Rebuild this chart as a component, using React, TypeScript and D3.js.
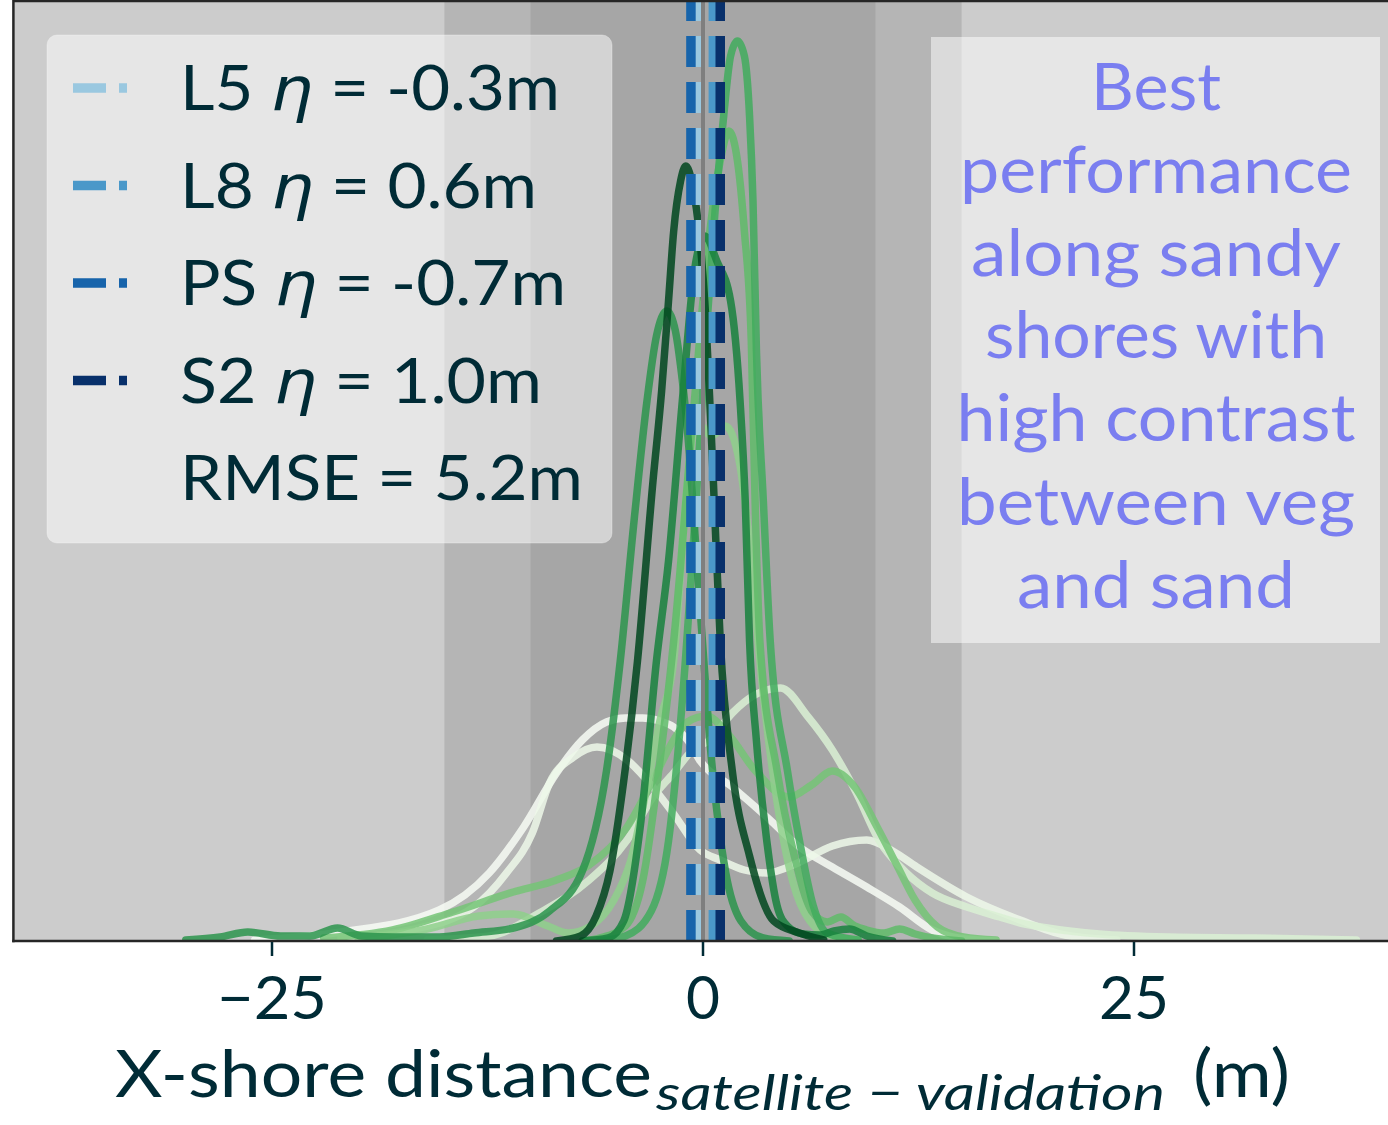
import React, { useEffect, useRef } from "react";
import * as d3 from "d3";

const W = 1388;
const H = 1125;

// axes ranges: x in metres, y is KDE density (x1e-3)
const xDomain: [number, number] = [-40, 40];
const yDomain: [number, number] = [0, 188];
const xTicks = [-25, 0, 25];
const xTickLabels = ["\u221225", "0", "25"];

// shaded error bands (m)
const outerBand = [-15, 15];
const innerBand = [-10, 10];

// mean offsets per sensor
const sensors = ["L5", "L8", "PS", "S2"];
const sensorEta = [-0.3, 0.6, -0.7, 1.0];
const rmse = 5.2;

const noteLines = ["Best", "performance", "along sandy", "shores with", "high contrast", "between veg", "and sand"];

// KDE curves per site, [distance (m), density]
const siteWa: [number, number][] = [
  [-26, 0.2], [-21, 1.8], [-15.3, 6.2], [-12.4, 13.6], [-10.4, 22.8], [-8.5, 33.6], [-7.0, 40.2], [-5.6, 43.8],
  [-4.5, 44.6], [-3.5, 44.6], [-2.5, 44], [-1.7, 42.8], [-0.9, 40.2], [-0.2, 36.2], [1.7, 30.8], [3.7, 24.8],
  [5.6, 18.8], [7.5, 14.8], [9.5, 10.8], [11.4, 6.8], [13.3, 2.2], [14.8, 0.6], [17, 0],
];
const siteWb: [number, number][] = [
  [-21, 0.6], [-17, 2.2], [-13.3, 6.8], [-11.4, 13.6], [-9.9, 21.6], [-8.9, 31.6], [-7.5, 36.8], [-6.15, 38.8],
  [-4.4, 36.2], [-3.25, 32.2], [-1.74, 25.6], [-0.17, 18.2], [1.0, 16.2], [2.4, 14.2], [3.7, 13.6], [5.5, 15.6],
  [7.5, 19], [9.5, 20.2], [11, 18], [12.4, 14.8], [15.3, 8.8], [18.4, 4.2], [21, 1.2], [24, 0.2],
];
const siteWc: [number, number][] = [
  [-16, 0.2], [-12.4, 1], [-9.5, 5.6], [-6.6, 12.2], [-4.4, 20.2], [-2.9, 28.8], [-1.7, 33.6], [-0.6, 38.2],
  [0.4, 40.2], [1.7, 45.6], [3.0, 49.2], [4.5, 50.6], [6.1, 44.8], [7.5, 38.2], [8.9, 29.6], [10.2, 20.2],
  [11.8, 13.6], [13.3, 9.6], [15.3, 6.8], [17.2, 4.8], [18.4, 3.6], [20, 2.6], [23, 1.4], [27, 0.8], [32, 0.6], [37.9, 0.2],
];
const siteWd: [number, number][] = [
  [-22, 0.6], [-18, 2.2], [-14.5, 5.8], [-11, 9.8], [-8.5, 12.2], [-6.6, 15.2], [-4.4, 22.8], [-2.9, 32.2],
  [-1.7, 40.2], [-0.9, 43.8], [0.2, 45], [1.5, 41.2], [3.0, 34.2], [5.0, 28.8], [6.3, 31.2], [7.5, 34],
  [8.8, 30.8], [10.1, 22.8], [11.3, 14.8], [12.3, 8.2], [13.6, 2.8], [15.1, 0.8], [17, 0.2],
];
const siteC6: [number, number][] = [
  [-20, 0.4], [-16, 2.4], [-13, 5], [-11, 5.4], [-9, 3], [-7.8, 1.6], [-6.5, 3], [-5.2, 8], [-4.2, 16],
  [-3.3, 30], [-2.5, 44], [-1.7, 56], [-1.0, 88], [-0.4, 104], [0.5, 101], [1.3, 103], [2.1, 96], [2.8, 76],
  [3.3, 56], [4.2, 30], [5.2, 12], [6.2, 4], [7.5, 1], [9, 0.2],
];
const siteC2: [number, number][] = [
  [-7, 0], [-6, 0.6], [-4.5, 3], [-3.5, 12], [-2.5, 36], [-1.7, 60], [-0.6, 104], [0.4, 142], [1.0, 156],
  [1.5, 162], [2.0, 156], [2.4, 142], [2.8, 120], [3.05, 84], [3.3, 60], [4.3, 34], [5.3, 17], [6.3, 6],
  [7.2, 3.8], [8.0, 4.8], [8.8, 3], [9.5, 2.2], [10.5, 1.6], [11.4, 2.4], [12.3, 1.4], [13.3, 0.6], [15, 0],
];
const siteC1: [number, number][] = [
  [-6, 0], [-4.5, 1], [-3, 6], [-2, 20], [-1.2, 48], [-0.4, 88], [0.2, 122], [0.7, 146], [1.2, 165], [1.6, 177],
  [2, 180], [2.4, 177], [2.7, 165], [2.9, 148], [3.1, 118], [3.5, 88], [3.9, 60], [4.9, 34], [5.6, 20],
  [6.4, 7], [7.2, 1.6], [9, 0.2],
];
const siteC5: [number, number][] = [
  [-30, 0.2], [-28, 0.8], [-26.4, 1.8], [-24.5, 1], [-22.8, 1], [-21.2, 2.6], [-19.8, 1], [-18, 0.8], [-15.3, 0.8],
  [-13.3, 1.6], [-11, 2.6], [-8.9, 6], [-7, 14], [-5.6, 34], [-4.8, 56], [-4, 84], [-3.25, 108], [-2.7, 121],
  [-2.1, 126], [-1.6, 122], [-1.3, 115], [-0.9, 102], [-0.2, 68], [0.5, 36], [1.3, 14], [2.2, 4], [3.5, 0.6], [5, 0],
];
const siteC4: [number, number][] = [
  [-7, 0], [-5.5, 0.6], [-4.6, 4], [-3.6, 24], [-2.7, 56], [-2.0, 76], [-1.2, 108], [-0.5, 134], [0.1, 141],
  [0.8, 136], [1.6, 128], [2.15, 108], [2.45, 88], [2.7, 60], [3.1, 40], [3.7, 20], [4.3, 7], [4.9, 3],
  [5.8, 1.4], [6.8, 1.2], [7.6, 2], [8.5, 2.4], [9.5, 1], [11, 0],
];
const siteC3: [number, number][] = [
  [-8.5, 0], [-7.1, 1], [-6.2, 5], [-5.4, 14], [-4.6, 32], [-3.8, 56], [-2.9, 92], [-2.4, 110], [-2.0, 128],
  [-1.7, 142], [-1.3, 152], [-1, 155], [-0.6, 151], [-0.2, 141], [0.1, 128], [0.6, 92], [1.0, 60], [1.7, 34],
  [2.7, 17], [4.1, 4], [5.6, 1.6], [7, 0.2],
];

const curves = [siteWa, siteWb, siteWc, siteWd, siteC6, siteC2, siteC1, siteC5, siteC4, siteC3];
const curveColors = ["#f7fcf5", "#edf8e9", "#d9f0d3", "#74c476", "#8ed08b", "#5fbb68", "#41ab5d", "#2c944c", "#17813d", "#00471e"];
const sensorColors = ["#9ac8e0", "#4a98c9", "#1764ab", "#08306b"];

const textColor = "#002b36";
const noteColor = "#7a7ef0";
const font = "Lato, 'DejaVu Sans', sans-serif";
const fontWeight = 400;

const App: React.FC = () => {
  const svgRef = useRef<SVGSVGElement>(null);

  useEffect(() => {
    if (!svgRef.current) return;
    const plot = { left: 13.4, right: 1392.6, top: 1, bottom: 941 };

    const x = d3.scaleLinear().domain(xDomain).range([plot.left, plot.right]);
    const y = d3.scaleLinear().domain(yDomain).range([plot.bottom, plot.top]);

    const svg = d3.select(svgRef.current).html("");

    svg.append("rect").attr("width", W).attr("height", H).attr("fill", "#ffffff");

    svg.append("clipPath").attr("id", "plotClip")
      .append("rect")
      .attr("x", plot.left).attr("y", plot.top)
      .attr("width", plot.right - plot.left).attr("height", plot.bottom - plot.top);

    const g = svg.append("g").attr("clip-path", "url(#plotClip)");

    // background + bands
    g.append("rect")
      .attr("x", plot.left).attr("y", plot.top)
      .attr("width", plot.right - plot.left).attr("height", plot.bottom - plot.top)
      .attr("fill", "#cccccc");
    g.append("rect")
      .attr("x", x(outerBand[0])).attr("y", plot.top)
      .attr("width", x(outerBand[1]) - x(outerBand[0])).attr("height", plot.bottom - plot.top)
      .attr("fill", "#b5b5b5");
    g.append("rect")
      .attr("x", x(innerBand[0])).attr("y", plot.top)
      .attr("width", x(innerBand[1]) - x(innerBand[0])).attr("height", plot.bottom - plot.top)
      .attr("fill", "#a6a6a6");

    // KDE lines
    const line = d3
      .line<[number, number]>()
      .x((d) => x(d[0]))
      .y((d) => y(d[1]))
      .curve(d3.curveMonotoneX);

    curves.forEach((c, i) => {
      g.append("path")
        .datum(c)
        .attr("fill", "none")
        .attr("stroke", curveColors[i])
        .attr("stroke-opacity", 0.85)
        .attr("stroke-width", 7.5)
        .attr("stroke-linejoin", "round")
        .attr("stroke-linecap", "round")
        .attr("d", line);
    });

    // mean offset lines
    sensorEta.forEach((v, i) => {
      g.append("line")
        .attr("x1", x(v)).attr("x2", x(v))
        .attr("y1", plot.bottom).attr("y2", plot.top)
        .attr("stroke", sensorColors[i])
        .attr("stroke-width", 9.5)
        .attr("stroke-dasharray", "31,15");
    });

    g.append("line")
      .attr("x1", x(0)).attr("x2", x(0))
      .attr("y1", plot.top).attr("y2", plot.bottom)
      .attr("stroke", "#7f7f7f")
      .attr("stroke-width", 4);

    // spines
    svg.append("line")
      .attr("x1", plot.left).attr("x2", plot.left).attr("y1", 0).attr("y2", plot.bottom + 1.2)
      .attr("stroke", "#262626").attr("stroke-width", 2.5);
    svg.append("line")
      .attr("x1", plot.left).attr("x2", W).attr("y1", plot.top).attr("y2", plot.top)
      .attr("stroke", "#262626").attr("stroke-width", 2.5);
    svg.append("line")
      .attr("x1", plot.left - 1.2).attr("x2", W).attr("y1", plot.bottom).attr("y2", plot.bottom)
      .attr("stroke", "#262626").attr("stroke-width", 2.5);

    // x ticks
    const tickWidths = [110, 34, 70];
    xTicks.forEach((t, i) => {
      svg.append("line")
        .attr("x1", x(t)).attr("x2", x(t))
        .attr("y1", plot.bottom + 1).attr("y2", plot.bottom + 15)
        .attr("stroke", textColor).attr("stroke-width", 2.5);
      svg.append("text")
        .attr("x", x(t) - tickWidths[i] / 2).attr("y", 1019)
        .attr("font-family", font).attr("font-size", 60).attr("font-weight", fontWeight)
        .attr("fill", textColor)
        .attr("textLength", tickWidths[i]).attr("lengthAdjust", "spacingAndGlyphs")
        .text(xTickLabels[i]);
    });

    // x label
    const lab = svg.append("g").attr("fill", textColor).attr("font-family", font).attr("font-weight", fontWeight);
    lab.append("text")
      .attr("x", 115).attr("y", 1097).attr("font-size", 66)
      .attr("textLength", 537).attr("lengthAdjust", "spacingAndGlyphs")
      .text("X-shore distance");
    lab.append("text")
      .attr("x", 656).attr("y", 1110).attr("font-size", 48).attr("font-style", "italic")
      .attr("textLength", 509).attr("lengthAdjust", "spacingAndGlyphs")
      .text("satellite \u2212 validation");
    lab.append("text")
      .attr("x", 1193).attr("y", 1097).attr("font-size", 66)
      .attr("textLength", 97).attr("lengthAdjust", "spacingAndGlyphs")
      .text("(m)");

    // legend
    const leg = svg.append("g");
    leg.append("rect")
      .attr("x", 47).attr("y", 35).attr("width", 565).attr("height", 508)
      .attr("rx", 10)
      .attr("fill", "#ffffff").attr("fill-opacity", 0.5)
      .attr("stroke", "#ffffff").attr("stroke-opacity", 0.3);
    const legWidths = [380, 357, 386, 362];
    sensors.forEach((s, i) => {
      const cy = 88 + 97.5 * i;
      leg.append("line")
        .attr("x1", 73).attr("x2", 127).attr("y1", cy).attr("y2", cy)
        .attr("stroke", sensorColors[i]).attr("stroke-width", 9.5)
        .attr("stroke-dasharray", "33,13");
      const t = leg.append("text")
        .attr("x", 180).attr("y", cy + 22)
        .attr("font-family", font).attr("font-size", 61).attr("font-weight", fontWeight)
        .attr("fill", textColor)
        .attr("textLength", legWidths[i]).attr("lengthAdjust", "spacingAndGlyphs");
      t.append("tspan").text(`${s} `);
      t.append("tspan")
        .attr("font-style", "italic").attr("font-weight", 400)
        .attr("font-family", "'DejaVu Sans', sans-serif").text("\u03b7");
      t.append("tspan").text(` = ${sensorEta[i].toFixed(1)}m`);
    });
    leg.append("text")
      .attr("x", 180).attr("y", 88 + 97.5 * 4 + 22)
      .attr("font-family", font).attr("font-size", 61).attr("font-weight", fontWeight)
      .attr("fill", textColor)
      .attr("textLength", 403).attr("lengthAdjust", "spacingAndGlyphs")
      .text(`RMSE = ${rmse.toFixed(1)}m`);

    // note box
    const note = svg.append("g");
    note.append("rect")
      .attr("x", 931).attr("y", 37).attr("width", 449).attr("height", 606)
      .attr("fill", "#ffffff").attr("fill-opacity", 0.5);
    const noteWidths = [130, 392, 370, 342, 399, 398, 278];
    const noteBase = [110, 193, 276, 358, 441, 525, 608];
    noteLines.forEach((l, i) => {
      note.append("text")
        .attr("x", 1156 - noteWidths[i] / 2).attr("y", noteBase[i])
        .attr("font-family", font).attr("font-size", 65).attr("font-weight", fontWeight)
        .attr("fill", noteColor)
        .attr("textLength", noteWidths[i]).attr("lengthAdjust", "spacingAndGlyphs")
        .text(l);
    });
  }, []);

  return (
    <div style={{ position: "fixed", left: 0, top: 0, width: W, height: H }}>
      <svg ref={svgRef} width={W} height={H} />
    </div>
  );
};

export default App;
